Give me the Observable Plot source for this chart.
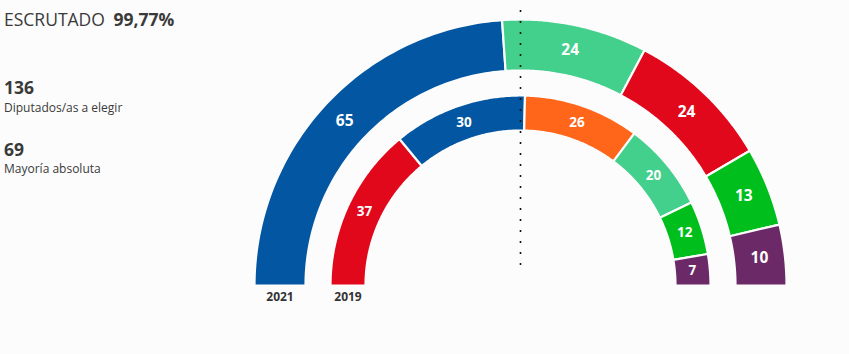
<!DOCTYPE html>
<html>
<head>
<meta charset="utf-8">
<script src="https://cdn.jsdelivr.net/npm/d3@7"></script>
<script src="https://cdn.jsdelivr.net/npm/@observablehq/plot@0.6"></script>
<style>
  html, body { margin: 0; padding: 0; background: #fcfcfc; }
  body { width: 849px; height: 354px; position: relative; overflow: hidden; font-family: "Open Sans", sans-serif; color: #333; }
  #info { position: absolute; left: 4px; top: 0; }
  .esc { position: absolute; top: 7px; left: 0; font-size: 17.5px; white-space: nowrap; color: #3a3a3a; }
  .esc b { font-weight: 700; margin-left: 4px; }
  .num { position: absolute; left: 0; font-size: 17.5px; font-weight: 700; color: #3a3a3a; }
  .lab { position: absolute; left: 0; font-size: 12px; white-space: nowrap; color: #3a3a3a; }
  #chart { position: absolute; left: 0; top: 0; }
</style>
</head>
<body>
<div id="chart"></div>
<div id="info">
  <div class="esc">ESCRUTADO <b>99,77%</b></div>
  <div class="num" style="top:75px">136</div>
  <div class="lab" style="top:99px">Diputados/as a elegir</div>
  <div class="num" style="top:137px">69</div>
  <div class="lab" style="top:160px">Mayoría absoluta</div>
</div>
<script>
// ---- Data ----
const years = ["2021", "2019"];
const parties2021 = ["PP", "Más Madrid", "PSOE", "Vox", "Unidas Podemos"];
const seats2021 = [65, 24, 24, 13, 10];
const parties2019 = ["PSOE", "PP", "Cs", "Más Madrid", "Vox", "Unidas Podemos"];
const seats2019 = [37, 30, 26, 20, 12, 7];
const majority = 69;

// ---- Styles ----
const partyColor = {
  "PP": "#0357a2",
  "Más Madrid": "#43cf8c",
  "PSOE": "#e1081c",
  "Vox": "#00bf1d",
  "Unidas Podemos": "#6b2a67",
  "Cs": "#ff661a"
};
const rings = [
  {year: years[0], parties: parties2021, seats: seats2021, r0: 215, r1: 266, fs: 15.5},
  {year: years[1], parties: parties2019, seats: seats2019, r0: 155, r1: 190, fs: 13.5}
];

const poly = [];
const labels = [];
const yearLabels = [];
for (const ring of rings) {
  const total = d3.sum(ring.seats);
  let cum = 0;
  ring.parties.forEach((p, i) => {
    const a0 = Math.PI * (1 - cum / total);
    const a1 = Math.PI * (1 - (cum + ring.seats[i]) / total);
    const key = ring.year + "-" + p;
    const n = 80;
    for (let k = 0; k <= n; k++) {
      const a = a0 + (a1 - a0) * k / n;
      poly.push({key, color: partyColor[p], x: ring.r1 * Math.cos(a), y: ring.r1 * Math.sin(a)});
    }
    for (let k = n; k >= 0; k--) {
      const a = a0 + (a1 - a0) * k / n;
      poly.push({key, color: partyColor[p], x: ring.r0 * Math.cos(a), y: ring.r0 * Math.sin(a)});
    }
    const am = (a0 + a1) / 2, rm = (ring.r0 + ring.r1) / 2;
    labels.push({text: String(ring.seats[i]), x: rm * Math.cos(am), y: rm * Math.sin(am), fs: ring.fs});
    cum += ring.seats[i];
  });
  yearLabels.push({text: ring.year, x: -(ring.r0 + ring.r1) / 2, y: -12});
}

const chart = Plot.plot({
  width: 849,
  height: 354,
  marginLeft: 254,
  marginRight: 63,
  marginTop: 19,
  marginBottom: 69,
  x: {domain: [-266, 266], axis: null},
  y: {domain: [0, 266], axis: null},
  color: {type: "identity"},
  style: {background: "transparent", fontFamily: "Open Sans, sans-serif", overflow: "visible"},
  marks: [
    Plot.line(poly, {x: "x", y: "y", z: "key", fill: "color", stroke: "#fcfcfc", strokeWidth: 2.2, curve: "linear-closed", clip: false}),
    Plot.ruleX([0], {y1: 20, y2: 278, stroke: "#111", strokeWidth: 1.6, strokeDasharray: "2,9", clip: false}),
    Plot.text(labels.filter(d => d.fs > 14), {x: "x", y: "y", text: "text", fill: "white", fontWeight: 700, fontSize: 15.5}),
    Plot.text(labels.filter(d => d.fs <= 14), {x: "x", y: "y", text: "text", fill: "white", fontWeight: 700, fontSize: 13.5}),
    Plot.text(yearLabels, {x: "x", y: "y", text: "text", fill: "#333", fontWeight: 700, fontSize: 12})
  ]
});
document.getElementById("chart").appendChild(chart);
</script>
</body>
</html>
